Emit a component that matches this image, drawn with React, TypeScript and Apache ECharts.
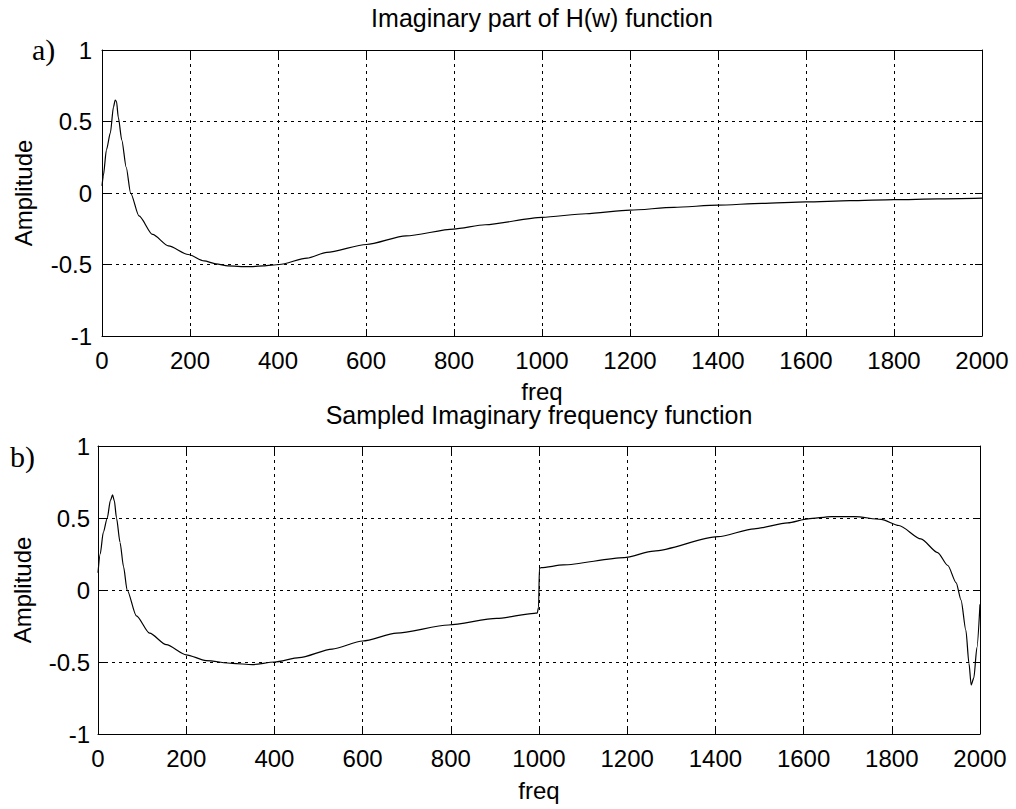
import React, { useEffect, useRef } from "react";
import * as echarts from "echarts";

// ---- data ----
const freqA = [0, 3, 10, 19, 26, 30, 33, 37, 45, 55, 65, 84, 115, 151, 196, 232, 259, 286, 331, 367, 403, 466, 511, 601, 691, 799, 871, 1000, 1100, 1200, 1300, 1400, 1500, 1600, 1700, 1800, 1900, 2000];
const ampA = [0.05, 0.12, 0.3, 0.42, 0.6, 0.65, 0.64, 0.53, 0.37, 0.18, 0.0, -0.16, -0.29, -0.37, -0.43, -0.475, -0.495, -0.51, -0.515, -0.51, -0.5, -0.455, -0.415, -0.36, -0.3, -0.252, -0.222, -0.17, -0.145, -0.12, -0.1, -0.085, -0.072, -0.062, -0.054, -0.047, -0.041, -0.036];

const freqB = [0, 5, 12, 21, 28, 33, 37, 42, 50, 58, 66, 87, 117, 155, 200, 245, 305, 350, 400, 456, 531, 600, 677, 795, 904, 989, 996, 999, 1001, 1005, 1055, 1193, 1260, 1406, 1488, 1564, 1610, 1663, 1716, 1776, 1816, 1866, 1904, 1927, 1946, 1957, 1968, 1975, 1980, 1986, 1993, 2000];
const ampB = [0.12, 0.25, 0.4, 0.5, 0.62, 0.66, 0.62, 0.5, 0.33, 0.16, 0.0, -0.18, -0.3, -0.38, -0.45, -0.49, -0.51, -0.518, -0.5, -0.47, -0.41, -0.354, -0.3, -0.243, -0.197, -0.162, -0.16, -0.12, 0.15, 0.155, 0.174, 0.225, 0.27, 0.37, 0.425, 0.466, 0.494, 0.51, 0.51, 0.49, 0.448, 0.355, 0.26, 0.17, 0.05, -0.07, -0.28, -0.51, -0.66, -0.61, -0.4, -0.1];

const titles = ["Imaginary part of H(w) function", "Sampled Imaginary frequency function"];
const panelLabels = ["a)", "b)"];
const xName = "freq";
const yName = "Amplitude";
const xMin = 0, xMax = 2000, xStep = 200;
const yMin = -1, yMax = 1, yStep = 0.5;

const SANS = "'Liberation Sans', Arial, Helvetica, sans-serif";
const SERIF = "'Liberation Serif', 'Times New Roman', serif";

export default function App() {
  const ref = useRef<HTMLDivElement>(null);
  useEffect(() => {
    const chart = echarts.init(ref.current!, null, { renderer: "svg" });
    const grids = [
      { left: 102, top: 50, width: 880, height: 286 },
      { left: 98, top: 446, width: 882, height: 288 },
    ];
    const xNameGap = [43, 44];
    const yLabelMargin = [10, 8];
    const yNameGap = [67, 64];
    const titleTop = [5, 402];
    const labelPos = [
      { x: 32, y: 49 },
      { x: 10, y: 456 },
    ];
    const black = "#000";
    const plain = (v: number) => String(v);
    const grid = { color: black, width: 1, type: [3, 4] };
    const xAxes: any[] = [];
    const yAxes: any[] = [];
    grids.forEach((g, i) => {
      xAxes.push({
        type: "value", gridIndex: i, position: "bottom", min: xMin, max: xMax, interval: xStep,
        name: xName, nameLocation: "middle", nameGap: xNameGap[i],
        nameTextStyle: { fontSize: 24, color: black, fontFamily: SANS },
        axisLine: { show: true, onZero: false, lineStyle: { color: black, width: 1 } },
        axisTick: { show: true, inside: true, length: 7, lineStyle: { color: black } },
        axisLabel: { fontSize: 24, color: black, margin: 12, fontFamily: SANS, formatter: plain },
        splitLine: { show: true, lineStyle: grid },
      });
      xAxes.push({
        type: "value", gridIndex: i, position: "top", min: xMin, max: xMax, interval: xStep,
        axisLine: { show: true, onZero: false, lineStyle: { color: black, width: 1 } },
        axisTick: { show: true, inside: true, length: 7, lineStyle: { color: black } },
        axisLabel: { show: false },
        splitLine: { show: false },
      });
      yAxes.push({
        type: "value", gridIndex: i, position: "left", min: yMin, max: yMax, interval: yStep,
        name: yName, nameLocation: "middle", nameGap: yNameGap[i], nameRotate: 90,
        nameTextStyle: { fontSize: 24, color: black, fontFamily: SANS },
        axisLine: { show: true, onZero: false, lineStyle: { color: black, width: 1 } },
        axisTick: { show: true, inside: true, length: 7, lineStyle: { color: black } },
        axisLabel: { fontSize: 24, color: black, margin: yLabelMargin[i], fontFamily: SANS, formatter: plain },
        splitLine: { show: true, lineStyle: grid },
      });
      yAxes.push({
        type: "value", gridIndex: i, position: "right", min: yMin, max: yMax, interval: yStep,
        axisLine: { show: true, onZero: false, lineStyle: { color: black, width: 1 } },
        axisTick: { show: true, inside: true, length: 7, lineStyle: { color: black } },
        axisLabel: { show: false },
        splitLine: { show: false },
      });
    });

    const dataA = freqA.map((f, i) => [f, ampA[i]]);
    const dataB = freqB.map((f, i) => [f, ampB[i]]);

    chart.setOption({
      animation: false,
      backgroundColor: "#fff",
      grid: grids,
      xAxis: xAxes,
      yAxis: yAxes,
      title: titles.map((t, i) => ({
        text: t,
        left: grids[i].left + grids[i].width / 2,
        textAlign: "center",
        top: titleTop[i],
        padding: 0,
        textStyle: { fontSize: 25, fontWeight: "normal", color: black, fontFamily: SANS },
      })),
      graphic: panelLabels.map((t, i) => ({
        type: "text",
        x: labelPos[i].x,
        y: labelPos[i].y,
        style: {
          text: t,
          fontSize: 30,
          fontFamily: SERIF,
          fill: black,
          verticalAlign: "middle",
        },
      })),
      series: [
        {
          type: "line", xAxisIndex: 0, yAxisIndex: 0, data: dataA,
          showSymbol: false, smooth: 0.25, smoothMonotone: "x",
          lineStyle: { color: black, width: 1.2 },
        },
        {
          type: "line", xAxisIndex: 2, yAxisIndex: 2, data: dataB,
          showSymbol: false, smooth: 0.25, smoothMonotone: "x",
          lineStyle: { color: black, width: 1.2 },
        },
      ],
    });
    return () => chart.dispose();
  }, []);
  return (
    <div
      ref={ref}
      style={{ position: "fixed", left: 0, top: 0, width: 1016, height: 809, background: "#fff" }}
    />
  );
}
